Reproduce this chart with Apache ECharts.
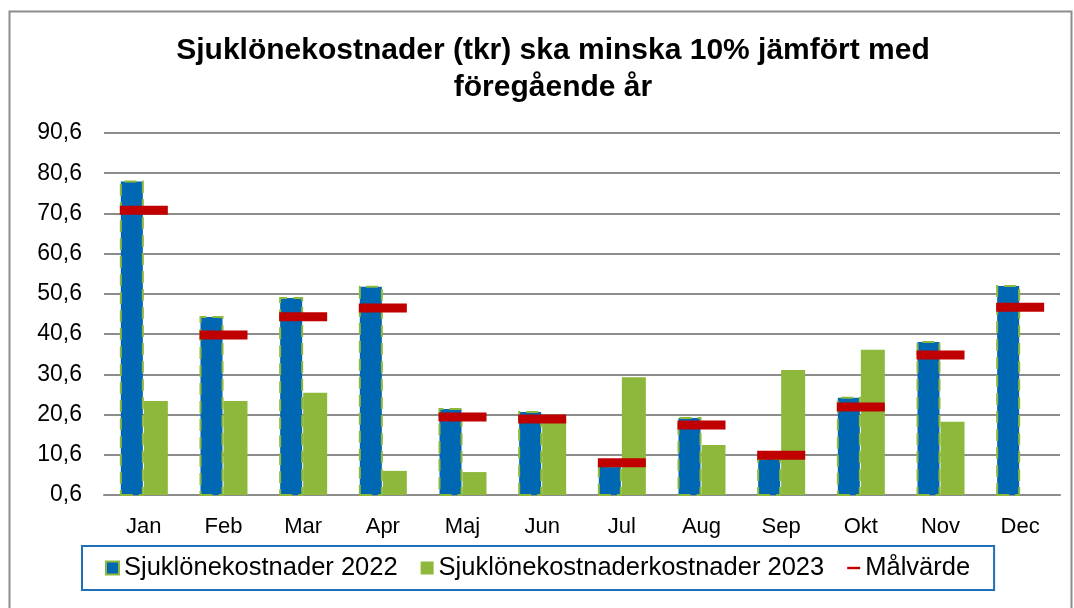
<!DOCTYPE html>
<html>
<head>
<meta charset="utf-8">
<script src="https://cdn.jsdelivr.net/npm/echarts@6/dist/echarts.min.js"></script>
<style>
html, body { margin: 0; padding: 0; background: #fff; }
#main { width: 1074px; height: 608px; }
</style>
</head>
<body>
<div id="main"></div>
<script>
// data
var months = ['Jan', 'Feb', 'Mar', 'Apr', 'Maj', 'Jun', 'Jul', 'Aug', 'Sep', 'Okt', 'Nov', 'Dec'];
var cost2022 = [78.8, 45.1, 49.8, 52.6, 22.2, 21.5, 8.0, 20.0, 9.8, 25.0, 38.9, 52.8];
var cost2023 = [24.0, 24.0, 26.0, 6.6, 6.3, 19.8, 29.9, 13.0, 31.7, 36.7, 18.8, null];
var target = [71.4, 40.4, 44.9, 47.1, 20.0, 19.5, 8.6, 18.0, 10.5, 22.5, 35.4, 47.3];
var yMin = 0.6, yMax = 90.6, yStep = 10;

var names = ['Sjuklönekostnader 2022', 'Sjuklönekostnaderkostnader 2023', 'Målvärde'];
var font = '"Liberation Sans", Arial, sans-serif';

var myChart = echarts.init(document.getElementById('main'));

var option = {
    animation: false,
    textStyle: { fontFamily: font },
    title: {
        text: 'Sjuklönekostnader (tkr) ska minska 10% jämfört med\nföregående år',
        left: 548,
        textAlign: 'center',
        top: 27,
        textStyle: { fontSize: 30, fontWeight: 'bold', color: '#000', lineHeight: 37, fontFamily: font }
    },
    // outer frame of the chart
    graphic: [{
        type: 'rect',
        shape: { x: 9.5, y: 11.5, width: 1062, height: 620 },
        style: { fill: null, stroke: '#8c8c8c', lineWidth: 2 },
        silent: true
    }],
    legend: {
        left: 82,
        top: 546,
        padding: [9, 24, 9, 23],
        borderColor: '#1f6fb8',
        borderWidth: 2,
        itemWidth: 13,
        itemHeight: 13,
        itemGap: 23,
        textStyle: { fontSize: 25.5, color: '#000', fontFamily: font },
        data: [
            { name: names[0], icon: 'rect' },
            { name: names[1], icon: 'rect' },
            // thin dash; the empty moves keep the icon box 16x13
            { name: names[2], icon: 'path://M0,0L0,0M0,5L16,5L16,8L0,8ZM16,13L16,13' }
        ]
    },
    grid: { left: 104, right: 14, top: 133, bottom: 113 },
    xAxis: {
        type: 'category',
        data: months,
        axisTick: { show: false },
        axisLine: { lineStyle: { color: '#8c8c8c', width: 2 } },
        axisLabel: { fontSize: 22, color: '#000', margin: 21, fontFamily: font }
    },
    yAxis: {
        type: 'value',
        min: yMin,
        max: yMax,
        interval: yStep,
        axisLine: { show: false },
        axisTick: { show: false },
        splitLine: { lineStyle: { color: '#8c8c8c', width: 2 } },
        axisLabel: {
            fontSize: 23, color: '#000', margin: 22, fontFamily: font,
            formatter: function (v) { return v.toFixed(1).replace('.', ','); }
        }
    },
    series: [
        {
            name: names[0],
            type: 'bar',
            data: cost2022,
            barWidth: 24,
            barGap: '0%',
            itemStyle: { color: '#0067b3', borderColor: '#8db83b', borderWidth: 2, borderType: [12, 6] }
        },
        {
            name: names[1],
            type: 'bar',
            data: cost2023,
            barWidth: 24,
            itemStyle: { color: '#8db83b' }
        },
        {
            name: names[2],
            type: 'line',
            data: target,
            symbol: 'rect',
            symbolSize: [48, 9],
            lineStyle: { width: 0, opacity: 0 },
            itemStyle: { color: '#c00000' },
            z: 5
        }
    ]
};

myChart.setOption(option);
</script>
</body>
</html>
